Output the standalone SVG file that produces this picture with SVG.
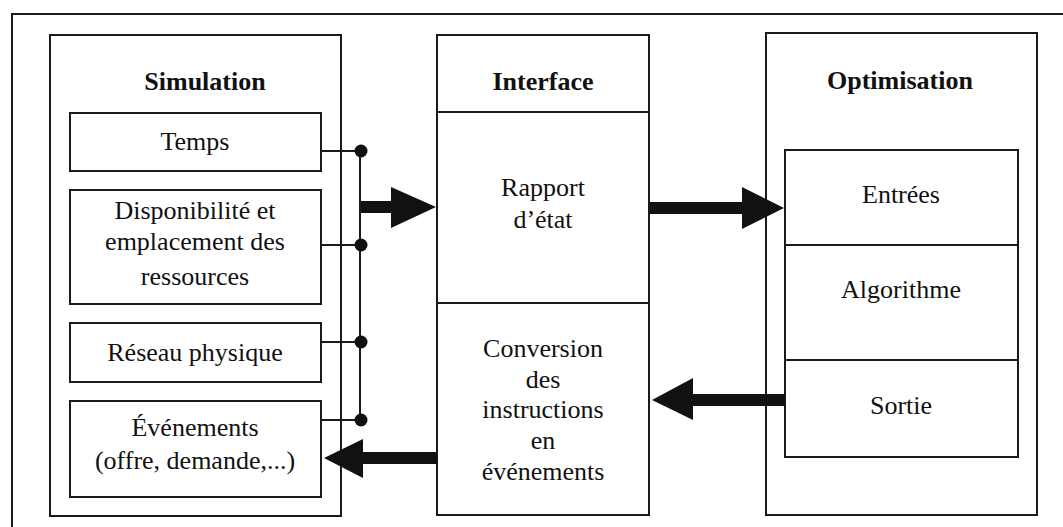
<svg xmlns="http://www.w3.org/2000/svg" width="1063" height="527" viewBox="0 0 1063 527">
<defs>
<style>
.box{fill:none;stroke:#1a1a1a;stroke-width:2}
.ln{stroke:#1a1a1a;stroke-width:2;fill:none}
.t{font-family:"Liberation Serif","Times New Roman","DejaVu Serif",serif;font-size:26px;fill:#111;text-anchor:middle}
.b{font-weight:bold}
.sh{stroke:#111;stroke-width:12;fill:none}
.hd{fill:#111}
.dot{fill:#111}
</style>
</defs>
<rect width="1063" height="527" fill="#fff"/>
<path class="ln" d="M12,527 V14 H1063"/>

<g id="simulation">
<rect class="box" x="50" y="35" width="291" height="481"/>
<text class="t b" x="205" y="90">Simulation</text>
</g>
<g id="temps">
<rect class="box" x="70" y="113" width="251" height="58"/>
<text class="t" x="195" y="150">Temps</text>
</g>
<g id="disponibilite">
<rect class="box" x="70" y="190" width="251" height="114"/>
<text class="t" x="195" y="219">Disponibilité et</text>
<text class="t" x="195" y="250">emplacement des</text>
<text class="t" x="195" y="285">ressources</text>
</g>
<g id="reseau">
<rect class="box" x="70" y="323" width="251" height="59"/>
<text class="t" x="195" y="361">Réseau physique</text>
</g>
<g id="evenements">
<rect class="box" x="70" y="401" width="251" height="96"/>
<text class="t" x="195" y="436">Événements</text>
<text class="t" x="195" y="469">(offre, demande,...)</text>
</g>

<g id="interface">
<rect class="box" x="437" y="35" width="212" height="480"/>
<line class="ln" x1="437" y1="112" x2="649" y2="112"/>
<line class="ln" x1="437" y1="303" x2="649" y2="303"/>
<text class="t b" x="543" y="90">Interface</text>
</g>
<g id="rapport">
<text class="t" x="543" y="196">Rapport</text>
<text class="t" x="543" y="228">d’état</text>
</g>
<g id="conversion">
<text class="t" x="543" y="357">Conversion</text>
<text class="t" x="543" y="388">des</text>
<text class="t" x="543" y="418">instructions</text>
<text class="t" x="543" y="449">en</text>
<text class="t" x="543" y="480">événements</text>
</g>

<g id="optimisation">
<rect class="box" x="766" y="33" width="271" height="482"/>
<text class="t b" x="900" y="89">Optimisation</text>
<rect class="box" x="785" y="150" width="233" height="307"/>
<line class="ln" x1="785" y1="245" x2="1018" y2="245"/>
<line class="ln" x1="785" y1="360" x2="1018" y2="360"/>
</g>
<g id="entrees"><text class="t" x="901" y="203">Entrées</text></g>
<g id="algorithme"><text class="t" x="901" y="298">Algorithme</text></g>
<g id="sortie"><text class="t" x="901" y="414">Sortie</text></g>

<g id="connectors">
<line class="ln" x1="360" y1="151" x2="360" y2="420"/>
<line class="ln" x1="321" y1="151" x2="360" y2="151"/>
<line class="ln" x1="321" y1="245" x2="360" y2="245"/>
<line class="ln" x1="321" y1="342" x2="360" y2="342"/>
<line class="ln" x1="321" y1="420" x2="360" y2="420"/>
<circle class="dot" cx="361" cy="151" r="6.5"/>
<circle class="dot" cx="361" cy="245" r="6.5"/>
<circle class="dot" cx="361" cy="342" r="6.5"/>
<circle class="dot" cx="361" cy="420" r="6.5"/>

<line class="sh" x1="361" y1="207" x2="395" y2="207"/>
<polygon class="hd" points="391,187 436,207 391,228"/>

<line class="sh" x1="650" y1="208" x2="746" y2="208"/>
<polygon class="hd" points="742,187 784,208 742,229"/>

<line class="sh" x1="785" y1="400" x2="688" y2="400"/>
<polygon class="hd" points="693,378 652,400 693,420"/>

<line class="sh" x1="437" y1="458" x2="360" y2="458"/>
<polygon class="hd" points="363,439 324,458 363,478"/>
</g>
</svg>
